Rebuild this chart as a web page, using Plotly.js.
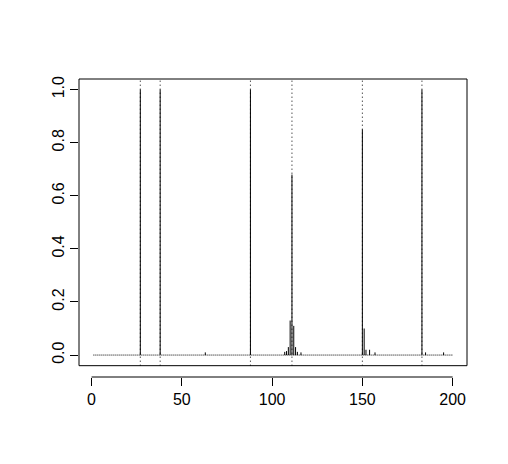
<!DOCTYPE html>
<html><head><meta charset="utf-8">
<script src="https://cdn.plot.ly/plotly-3.0.1.min.js"></script>
<style>body{margin:0;padding:0;background:#fff}</style>
</head><body><div id="chart" style="width:508px;height:464px"></div>
<script>
const positions = [27, 38, 63, 88, 107, 108, 109, 110, 111, 112, 113, 114, 116, 150, 151, 152, 154, 157, 183, 185, 195];
const heights   = [1.0, 1.0, 0.01, 1.0, 0.012, 0.015, 0.03, 0.13, 0.68, 0.11, 0.03, 0.012, 0.01, 0.85, 0.10, 0.02, 0.02, 0.01, 1.0, 0.01, 0.01];
const refLines = [27, 38, 88, 111, 150, 183];
const xStart = 1, xEnd = 200;
const xTicks = [0, 50, 100, 150, 200];
const yTicks = [0, 0.2, 0.4, 0.6, 0.8, 1.0];
const yTickText = ['0.0', '0.2', '0.4', '0.6', '0.8', '1.0'];

const bx = [], by = [];
positions.forEach((p, i) => { bx.push(p, p, null); by.push(0, heights[i], null); });

const yDom0 = 0.038;
const traces = [
  {x: [xStart, xEnd], y: [0, 0], mode: 'lines', line: {color: 'black', width: 1, dash: '1px,1px'}, hoverinfo: 'skip'},
  {x: bx, y: by, mode: 'lines', line: {color: 'black', width: 1}, hoverinfo: 'skip'}
];
const shapes = [
  {type: 'rect', xref: 'paper', yref: 'paper', x0: 0, x1: 1, y0: yDom0, y1: 1, line: {color: 'black', width: 1}},
  {type: 'line', xref: 'x', yref: 'paper', x0: xTicks[0], x1: xTicks[xTicks.length-1], y0: 0, y1: 0, line: {color: 'black', width: 1}}
];
refLines.forEach(v => shapes.push({type: 'line', xref: 'x', yref: 'paper', x0: v, x1: v, y0: yDom0, y1: 1, line: {color: 'black', width: 1, dash: '1px,3px'}}));

const font = {family: 'Liberation Sans, Arial, sans-serif', size: 16, color: 'black'};
const layout = {
  width: 508, height: 464,
  margin: {l: 79, r: 41, t: 79, b: 87, pad: 0},
  paper_bgcolor: 'white', plot_bgcolor: 'white',
  showlegend: false,
  font: font,
  xaxis: {range: [-6.96, 207.96], anchor: 'free', position: 0, showline: false, showgrid: false, zeroline: false,
          ticks: 'outside', ticklen: 8, tickwidth: 1, tickcolor: 'black', tickvals: xTicks, tickfont: font},
  yaxis: {domain: [yDom0, 1], range: [-0.04, 1.04], showline: false, showgrid: false, zeroline: false,
          ticks: 'outside', ticklen: 8, tickwidth: 1, tickcolor: 'black', tickvals: yTicks, ticktext: yTickText,
          tickangle: -90, tickfont: font},
  shapes: shapes
};
Plotly.newPlot('chart', traces, layout, {displayModeBar: false, staticPlot: true});
</script></body></html>
